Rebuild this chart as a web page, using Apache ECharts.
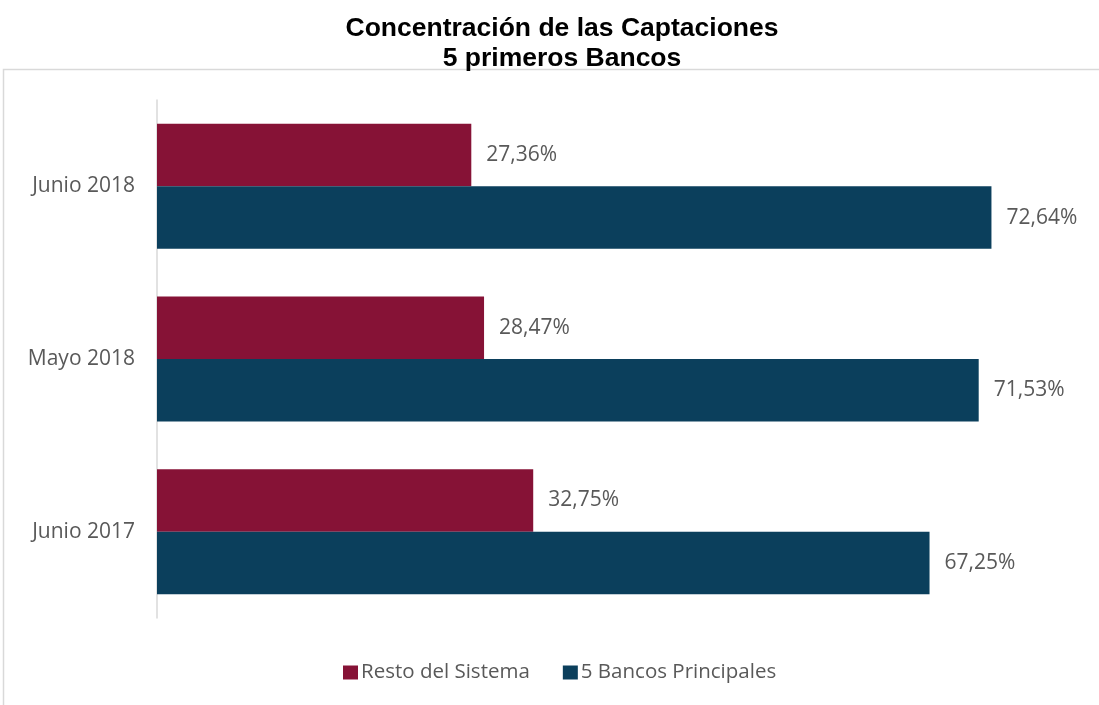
<!DOCTYPE html>
<html><head><meta charset="utf-8">
<script src="https://cdn.jsdelivr.net/npm/echarts@6/dist/echarts.min.js"></script>
<style>html,body{margin:0;padding:0;background:#fff}#c{width:1099px;height:705px}</style>
</head><body><div id="c"></div>
<script>
const categories = ['Junio 2017', 'Mayo 2018', 'Junio 2018'];
const resto = [32.75, 28.47, 27.36];
const bancos = [67.25, 71.53, 72.64];
const seriesNames = ['Resto del Sistema', '5 Bancos Principales'];
const colors = ['#861236', '#0B3F5C'];

const chart = echarts.init(document.getElementById('c'));
const lbl = {
  show: true, position: 'right', distance: 15, color: '#595959',
  fontFamily: 'Open Sans', fontSize: 21,
  formatter: p => p.value.toFixed(2).replace('.', ',') + '%'
};
chart.setOption({
  animation: false,
  title: {
    text: 'Concentración de las Captaciones\n5 primeros Bancos',
    left: 557, top: 9, textAlign: 'center',
    textStyle: { fontFamily: 'Liberation Sans', fontWeight: 'bold', fontSize: 26.5, lineHeight: 30, color: '#000' }
  },
  graphic: [{
    type: 'rect', shape: { x: 3.5, y: 69.5, width: 1110, height: 660 },
    style: { fill: null, stroke: '#d9d9d9', lineWidth: 1.5 }, silent: true, z: -1
  }],
  legend: {
    data: seriesNames, left: 338, top: 657, itemWidth: 15, itemHeight: 14, itemGap: 33,
    icon: 'rect',
    textStyle: { fontFamily: 'Open Sans', fontSize: 20.5, color: '#595959', padding: [0, 0, 0, -2] }
  },
  grid: { left: 157, right: 23, top: 100, bottom: 87, containLabel: false },
  xAxis: { type: 'value', min: 0, max: 80, show: false },
  yAxis: {
    type: 'category', data: categories,
    axisLine: { show: true, lineStyle: { color: '#d9d9d9', width: 1.5 } },
    axisTick: { show: false },
    axisLabel: { color: '#595959', fontFamily: 'Open Sans', fontSize: 21, margin: 22 }
  },
  series: [
    { name: seriesNames[0], type: 'bar', data: resto, itemStyle: { color: colors[0] },
      barGap: '0%', barCategoryGap: '27.6%', label: lbl },
    { name: seriesNames[1], type: 'bar', data: bancos, itemStyle: { color: colors[1] },
      barGap: '0%', barCategoryGap: '27.6%', label: lbl }
  ]
});
</script></body></html>
